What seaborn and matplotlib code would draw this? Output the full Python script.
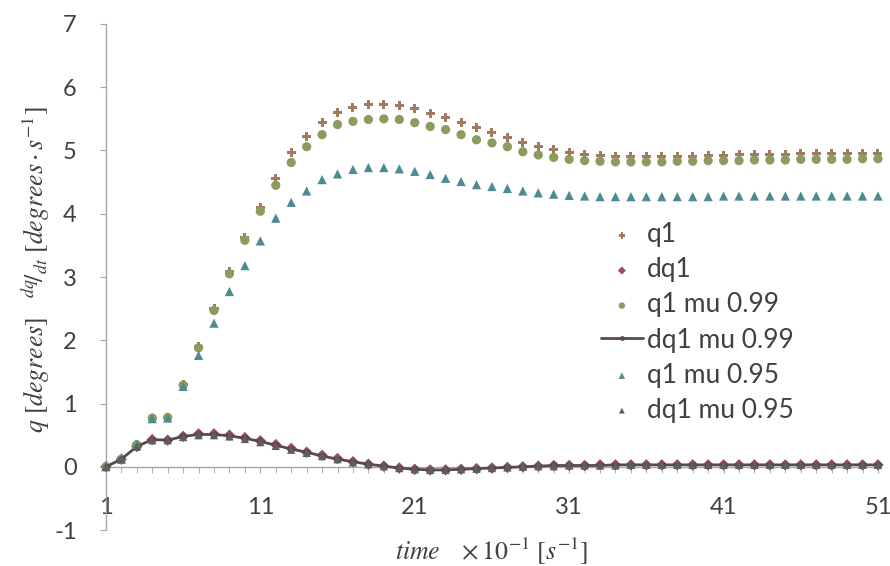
import numpy as np
import pandas as pd
import seaborn as sns
import matplotlib.pyplot as plt
from matplotlib.ticker import FixedLocator, MultipleLocator

# time steps (x 10^-1 s)
time = list(range(1, 52))

q1 = [0.00, 0.12, 0.35, 0.77, 0.78, 1.30, 1.90, 2.50, 3.08, 3.62,
      4.10, 4.55, 4.97, 5.22, 5.44, 5.60, 5.68, 5.73, 5.73, 5.71,
      5.66, 5.58, 5.52, 5.44, 5.36, 5.28, 5.20, 5.12, 5.06, 5.01,
      4.97, 4.94, 4.92, 4.91, 4.90, 4.90, 4.90, 4.91, 4.91, 4.92,
      4.92, 4.93, 4.93, 4.94, 4.94, 4.95, 4.95, 4.95, 4.96, 4.96, 4.96]

dq1 = [0.00, 0.12, 0.32, 0.43, 0.42, 0.48, 0.52, 0.52, 0.50, 0.46,
       0.41, 0.35, 0.29, 0.23, 0.18, 0.13, 0.08, 0.04, 0.01, -0.02,
       -0.04, -0.05, -0.05, -0.04, -0.03, -0.02, -0.01, 0.00, 0.01, 0.02,
       0.02, 0.02, 0.03, 0.03, 0.03, 0.03, 0.03, 0.03, 0.03, 0.03,
       0.03, 0.03, 0.03, 0.03, 0.03, 0.03, 0.03, 0.03, 0.03, 0.03, 0.03]

q1_mu099 = [0.00, 0.12, 0.35, 0.77, 0.78, 1.29, 1.88, 2.47, 3.05, 3.58,
            4.04, 4.45, 4.81, 5.06, 5.25, 5.41, 5.46, 5.49, 5.50, 5.49,
            5.44, 5.38, 5.33, 5.25, 5.17, 5.12, 5.06, 4.98, 4.93, 4.89,
            4.86, 4.84, 4.83, 4.82, 4.82, 4.82, 4.82, 4.83, 4.83, 4.84,
            4.84, 4.84, 4.85, 4.85, 4.85, 4.86, 4.86, 4.86, 4.86, 4.87, 4.87]

dq1_mu099 = [0.00, 0.12, 0.32, 0.43, 0.42, 0.48, 0.51, 0.51, 0.49, 0.45,
             0.40, 0.34, 0.28, 0.23, 0.17, 0.12, 0.08, 0.04, 0.01, -0.02,
             -0.04, -0.05, -0.05, -0.04, -0.03, -0.02, -0.01, 0.00, 0.01, 0.02,
             0.02, 0.02, 0.02, 0.03, 0.03, 0.03, 0.03, 0.03, 0.03, 0.03,
             0.03, 0.03, 0.03, 0.03, 0.03, 0.03, 0.03, 0.03, 0.03, 0.03, 0.03]

q1_mu095 = [0.00, 0.12, 0.35, 0.76, 0.77, 1.27, 1.76, 2.27, 2.77, 3.18,
            3.57, 3.93, 4.18, 4.36, 4.54, 4.63, 4.70, 4.73, 4.73, 4.71,
            4.67, 4.62, 4.56, 4.51, 4.46, 4.43, 4.40, 4.36, 4.33, 4.31,
            4.29, 4.28, 4.27, 4.27, 4.27, 4.27, 4.27, 4.27, 4.27, 4.27,
            4.28, 4.28, 4.28, 4.28, 4.28, 4.28, 4.28, 4.28, 4.28, 4.28, 4.28]

dq1_mu095 = [0.00, 0.12, 0.32, 0.42, 0.42, 0.47, 0.50, 0.50, 0.48, 0.44,
             0.39, 0.33, 0.27, 0.22, 0.17, 0.12, 0.07, 0.04, 0.01, -0.02,
             -0.04, -0.05, -0.05, -0.04, -0.03, -0.02, -0.01, 0.00, 0.01, 0.01,
             0.02, 0.02, 0.02, 0.02, 0.03, 0.03, 0.03, 0.03, 0.03, 0.03,
             0.03, 0.03, 0.03, 0.03, 0.03, 0.03, 0.03, 0.03, 0.03, 0.03, 0.03]

x_ticks = [1, 11, 21, 31, 41, 51]
y_ticks = [-1, 0, 1, 2, 3, 4, 5, 6, 7]

sns.set_style("white")
plt.rcParams['font.family'] = ['Lato', 'DejaVu Sans']
plt.rcParams['mathtext.fontset'] = 'stix'
plt.rcParams['axes.unicode_minus'] = False

fig = plt.figure(figsize=(8.9, 5.66), dpi=100)
ax = fig.add_axes([0.119, 0.0636, 0.8675, 0.894])

df = pd.DataFrame({'time': time, 'q1': q1, 'dq1': dq1, 'q1_mu099': q1_mu099,
                   'dq1_mu099': dq1_mu099, 'q1_mu095': q1_mu095, 'dq1_mu095': dq1_mu095})

sns.scatterplot(data=df, x='time', y='q1', marker='P', s=42, color='#a27a62',
                edgecolor='none', label='q1', ax=ax, clip_on=False, zorder=3)
sns.scatterplot(data=df, x='time', y='dq1', marker='D', s=34, color='#9c4b50',
                edgecolor='none', label='dq1', ax=ax, clip_on=False, zorder=3)
sns.scatterplot(data=df, x='time', y='q1_mu099', marker='o', s=44, color='#8b9d5e',
                edgecolor='none', label='q1 mu 0.99', ax=ax, clip_on=False, zorder=3)
sns.lineplot(data=df, x='time', y='dq1_mu099', marker='o', markersize=5, color='#5a4a4c',
             linewidth=2, markeredgecolor='none', label='dq1 mu 0.99', ax=ax, clip_on=False, zorder=3)
sns.scatterplot(data=df, x='time', y='q1_mu095', marker='^', s=44, color='#4a8c90',
                edgecolor='none', label='q1 mu 0.95', ax=ax, clip_on=False, zorder=3)
sns.scatterplot(data=df, x='time', y='dq1_mu095', marker='^', s=36, color='#5b5f63',
                edgecolor='none', label='dq1 mu 0.95', ax=ax, clip_on=False, zorder=3)

ax.set_xlim(1, 51)
ax.set_ylim(-1, 7)

for side in ['top', 'right']:
    ax.spines[side].set_visible(False)
ax.spines['bottom'].set_position(('data', 0))
for side in ['left', 'bottom']:
    ax.spines[side].set_color('#a6a6a6')
    ax.spines[side].set_linewidth(1.0)

ax.xaxis.set_major_locator(FixedLocator(x_ticks))
ax.xaxis.set_minor_locator(MultipleLocator(1))
ax.set_yticks(y_ticks)
ax.tick_params(axis='x', which='both', direction='out', length=4, color='#a6a6a6',
               bottom=True, labelsize=17, labelcolor='#404040', pad=18)
ax.tick_params(axis='y', direction='out', length=4, color='#a6a6a6', left=True,
               labelsize=17, labelcolor='#404040', pad=17)

ax.set_xlabel(r'$time\ \ \ \times 10^{-1}\ [s^{-1}]$', fontsize=18.5, color='#404040')
ax.xaxis.set_label_coords(0.5, -0.01)
ax.set_ylabel(r'$q\ [degrees]\ \ \ {}^{dq}\!/_{dt}\ [degrees\cdot s^{-1}]$',
              fontsize=18.5, color='#404040')
ax.yaxis.set_label_coords(-0.07, 0.514)

leg = ax.legend(loc='upper left', bbox_to_anchor=(0.675, 0.607), bbox_transform=fig.transFigure,
                frameon=False, fontsize=19, handlelength=1.6, handletextpad=0.15,
                labelspacing=0.38, markerscale=0.7, borderpad=0, borderaxespad=0)
for t in leg.get_texts():
    t.set_color('#404040')

plt.savefig('out.png', dpi=100)
